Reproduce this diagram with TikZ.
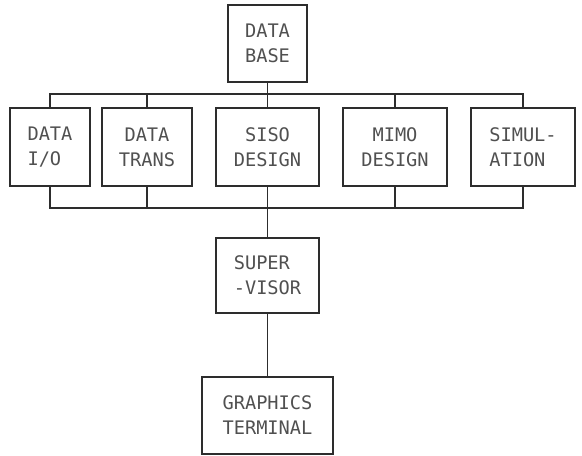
\documentclass[tikz,border=0pt]{standalone}
\usepackage{fontspec}
\setmonofont{DejaVu Sans Mono}
\usepackage{tikz}
\usetikzlibrary{positioning, calc}
\definecolor{inkgray}{RGB}{45, 45, 45}
\definecolor{textgray}{RGB}{80, 80, 80}
\tikzset{
  modbox/.style={rectangle, draw=inkgray, line width=1.1pt, minimum height=58.5pt, inner sep=2pt, align=center, text=textgray, font=\ttfamily\fontsize{14}{18.75}\selectfont},
  leftbox/.style={modbox, align=left},
  bus/.style={draw=inkgray, line width=1.1pt}
}

\begin{document}
\begin{tikzpicture}[x=0.75pt, y=-0.75pt]
    \useasboundingbox (0,0) rectangle (582,456);
    % Data base on top
    \node[modbox, minimum width=59.25pt, minimum height=57.75pt] (db) at (267.5, 43.5) {DATA\\BASE};
    % Row of program modules
    \node[leftbox, minimum width=60pt] (io) at (50, 147) {DATA\\I/O};
    \node[modbox, minimum width=67.5pt] (trans) at (147, 147) {DATA\\TRANS};
    \node[modbox, minimum width=77.25pt] (siso) at (267.5, 147) {SISO\\DESIGN};
    \node[modbox, minimum width=78pt] (mimo) at (395, 147) {MIMO\\DESIGN};
    \node[leftbox, minimum width=78pt] (sim) at (523, 147) {SIMUL-\\ATION};
    % Supervisor and terminal
    \node[leftbox, minimum width=77.25pt, minimum height=56.25pt] (sup) at (267.5, 275.5) {SUPER\\-VISOR};
    \node[modbox, minimum width=98.25pt, minimum height=57.75pt] (gt) at (267.5, 415.5) {GRAPHICS\\TERMINAL};
    % Bus lines
    \coordinate (topbus) at (0, 94);
    \coordinate (botbus) at (0, 208);
    \draw[bus] (db.south) -- (db.south |- topbus);
    \draw[bus] (io.north) |- (topbus -| sim.north) -- (sim.north);
    \draw[bus] (trans.north) -- (trans.north |- topbus);
    \draw[bus] (siso.north) -- (siso.north |- topbus);
    \draw[bus] (mimo.north) -- (mimo.north |- topbus);
    \draw[bus] (io.south) |- (botbus -| sim.south) -- (sim.south);
    \draw[bus] (trans.south) -- (trans.south |- botbus);
    \draw[bus] (mimo.south) -- (mimo.south |- botbus);
    \draw[bus] (siso.south) -- (sup.north);
    \draw[bus, line width=0.8pt] (sup.south) -- (gt.north);
\end{tikzpicture}
\end{document}
